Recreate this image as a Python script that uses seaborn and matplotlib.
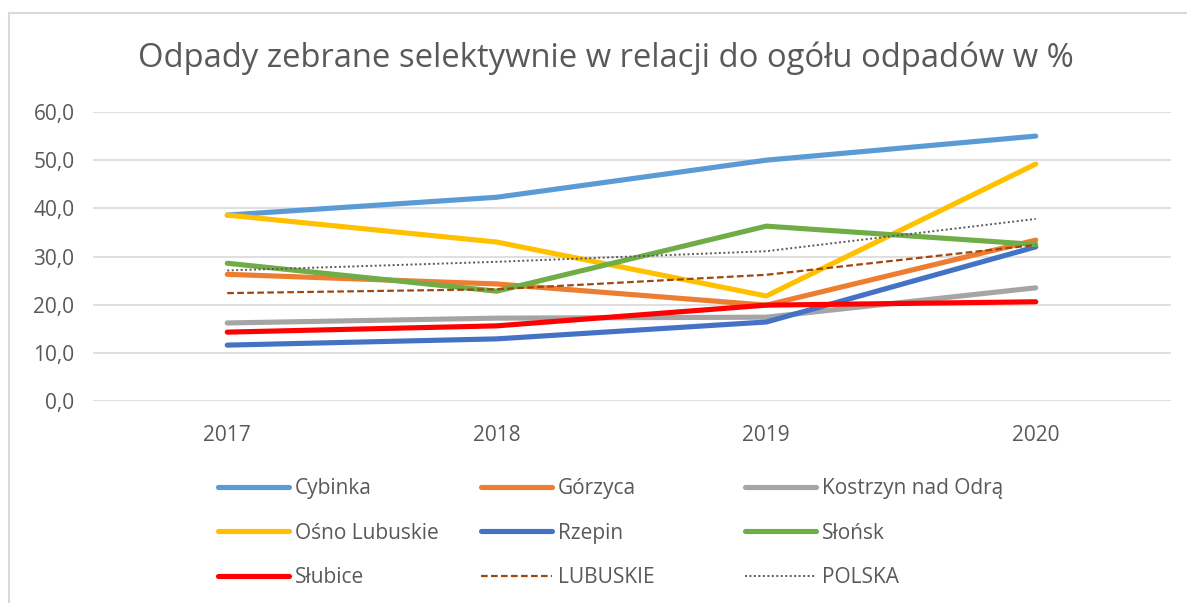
import numpy as np
import pandas as pd
import matplotlib
matplotlib.use("Agg")
import matplotlib.pyplot as plt
import seaborn as sns
from matplotlib.patches import Rectangle

# dane
years = ["2017", "2018", "2019", "2020"]
names = ["Cybinka", "Górzyca", "Kostrzyn nad Odrą", "Ośno Lubuskie", "Rzepin",
         "Słońsk", "Słubice", "LUBUSKIE", "POLSKA"]
cybinka = [38.6, 42.3, 50.0, 55.0]
gorzyca = [26.3, 24.3, 19.9, 33.4]
kostrzyn = [16.2, 17.2, 17.4, 23.5]
osno = [38.6, 33.0, 21.8, 49.2]
rzepin = [11.6, 12.9, 16.4, 32.0]
slonsk = [28.6, 22.8, 36.3, 32.5]
slubice = [14.3, 15.6, 19.9, 20.6]
lubuskie = [22.4, 23.2, 26.2, 32.4]
polska = [27.1, 28.9, 31.1, 37.8]

values = [cybinka, gorzyca, kostrzyn, osno, rzepin, slonsk, slubice, lubuskie, polska]
colors = ["#5B9BD5", "#ED7D31", "#A5A5A5", "#FFC000", "#4472C4",
          "#70AD47", "#FF0000", "#9E480E", "#595959"]
widths = [3.7, 3.7, 3.7, 3.7, 3.7, 3.7, 3.7, 1.6, 1.4]
styles = ["-"] * 7 + [(0, (3, 1.5)), (0, (1, 1.3))]

sns.set_style("white")
plt.rcParams["font.family"] = ["Open Sans", "DejaVu Sans"]
txt = "#595959"
W, H = 1187, 603

fig = plt.figure(figsize=(11.87, 6.03), dpi=100)
ax = fig.add_axes([92.5 / W, 1 - 401 / H, 1078 / W, 289 / H])
# ramka wykresu (lewa i górna krawędź widoczne)
fig.patches.append(Rectangle((9.5 / W, -0.05), 1.2, 1.05 - 13.5 / H, transform=fig.transFigure,
                             fill=False, edgecolor="#D9D9D9", lw=1.5))

x = np.arange(len(years))
for name, vals, c, lw, ls in zip(names, values, colors, widths, styles):
    sns.lineplot(x=x, y=vals, ax=ax, color=c, lw=lw, linestyle=ls, label=name,
                 solid_capstyle="round", dash_capstyle="butt")

ax.set_xlim(-0.5, 3.5)
ax.set_ylim(0, 60)
ax.set_yticks(np.arange(0, 61, 10))
ax.set_yticklabels([f"{v:.1f}".replace(".", ",") for v in np.arange(0, 61, 10)])
ax.set_xticks(x)
ax.set_xticklabels(years)
ax.yaxis.grid(True, color="#D9D9D9", lw=1.2)
ax.set_axisbelow(True)
for s in ax.spines.values():
    s.set_visible(False)
ax.tick_params(axis="both", length=0, labelsize=15, colors=txt)
ax.tick_params(axis="y", pad=13)
ax.tick_params(axis="x", pad=17)

fig.text(606 / W, 1 - 58 / H, "Odpady zebrane selektywnie w relacji do ogółu odpadów w %",
         ha="center", va="center", fontsize=23.6, color=txt)

handles, labels = ax.get_legend_handles_labels()
ax.get_legend().remove()
# legenda w trzech kolumnach, wiersz po wierszu
col_x = [218, 481, 745]
for j, cx in enumerate(col_x):
    idx = [j, j + 3, j + 6]
    fig.legend([handles[i] for i in idx], [labels[i] for i in idx], ncol=1,
               loc="upper left", bbox_to_anchor=(cx / W, 1 - 478 / H),
               frameon=False, fontsize=15, labelcolor=txt, handlelength=3.4,
               handletextpad=0.3, labelspacing=1.13, borderpad=0, borderaxespad=0)

fig.savefig("out.png", dpi=100)
